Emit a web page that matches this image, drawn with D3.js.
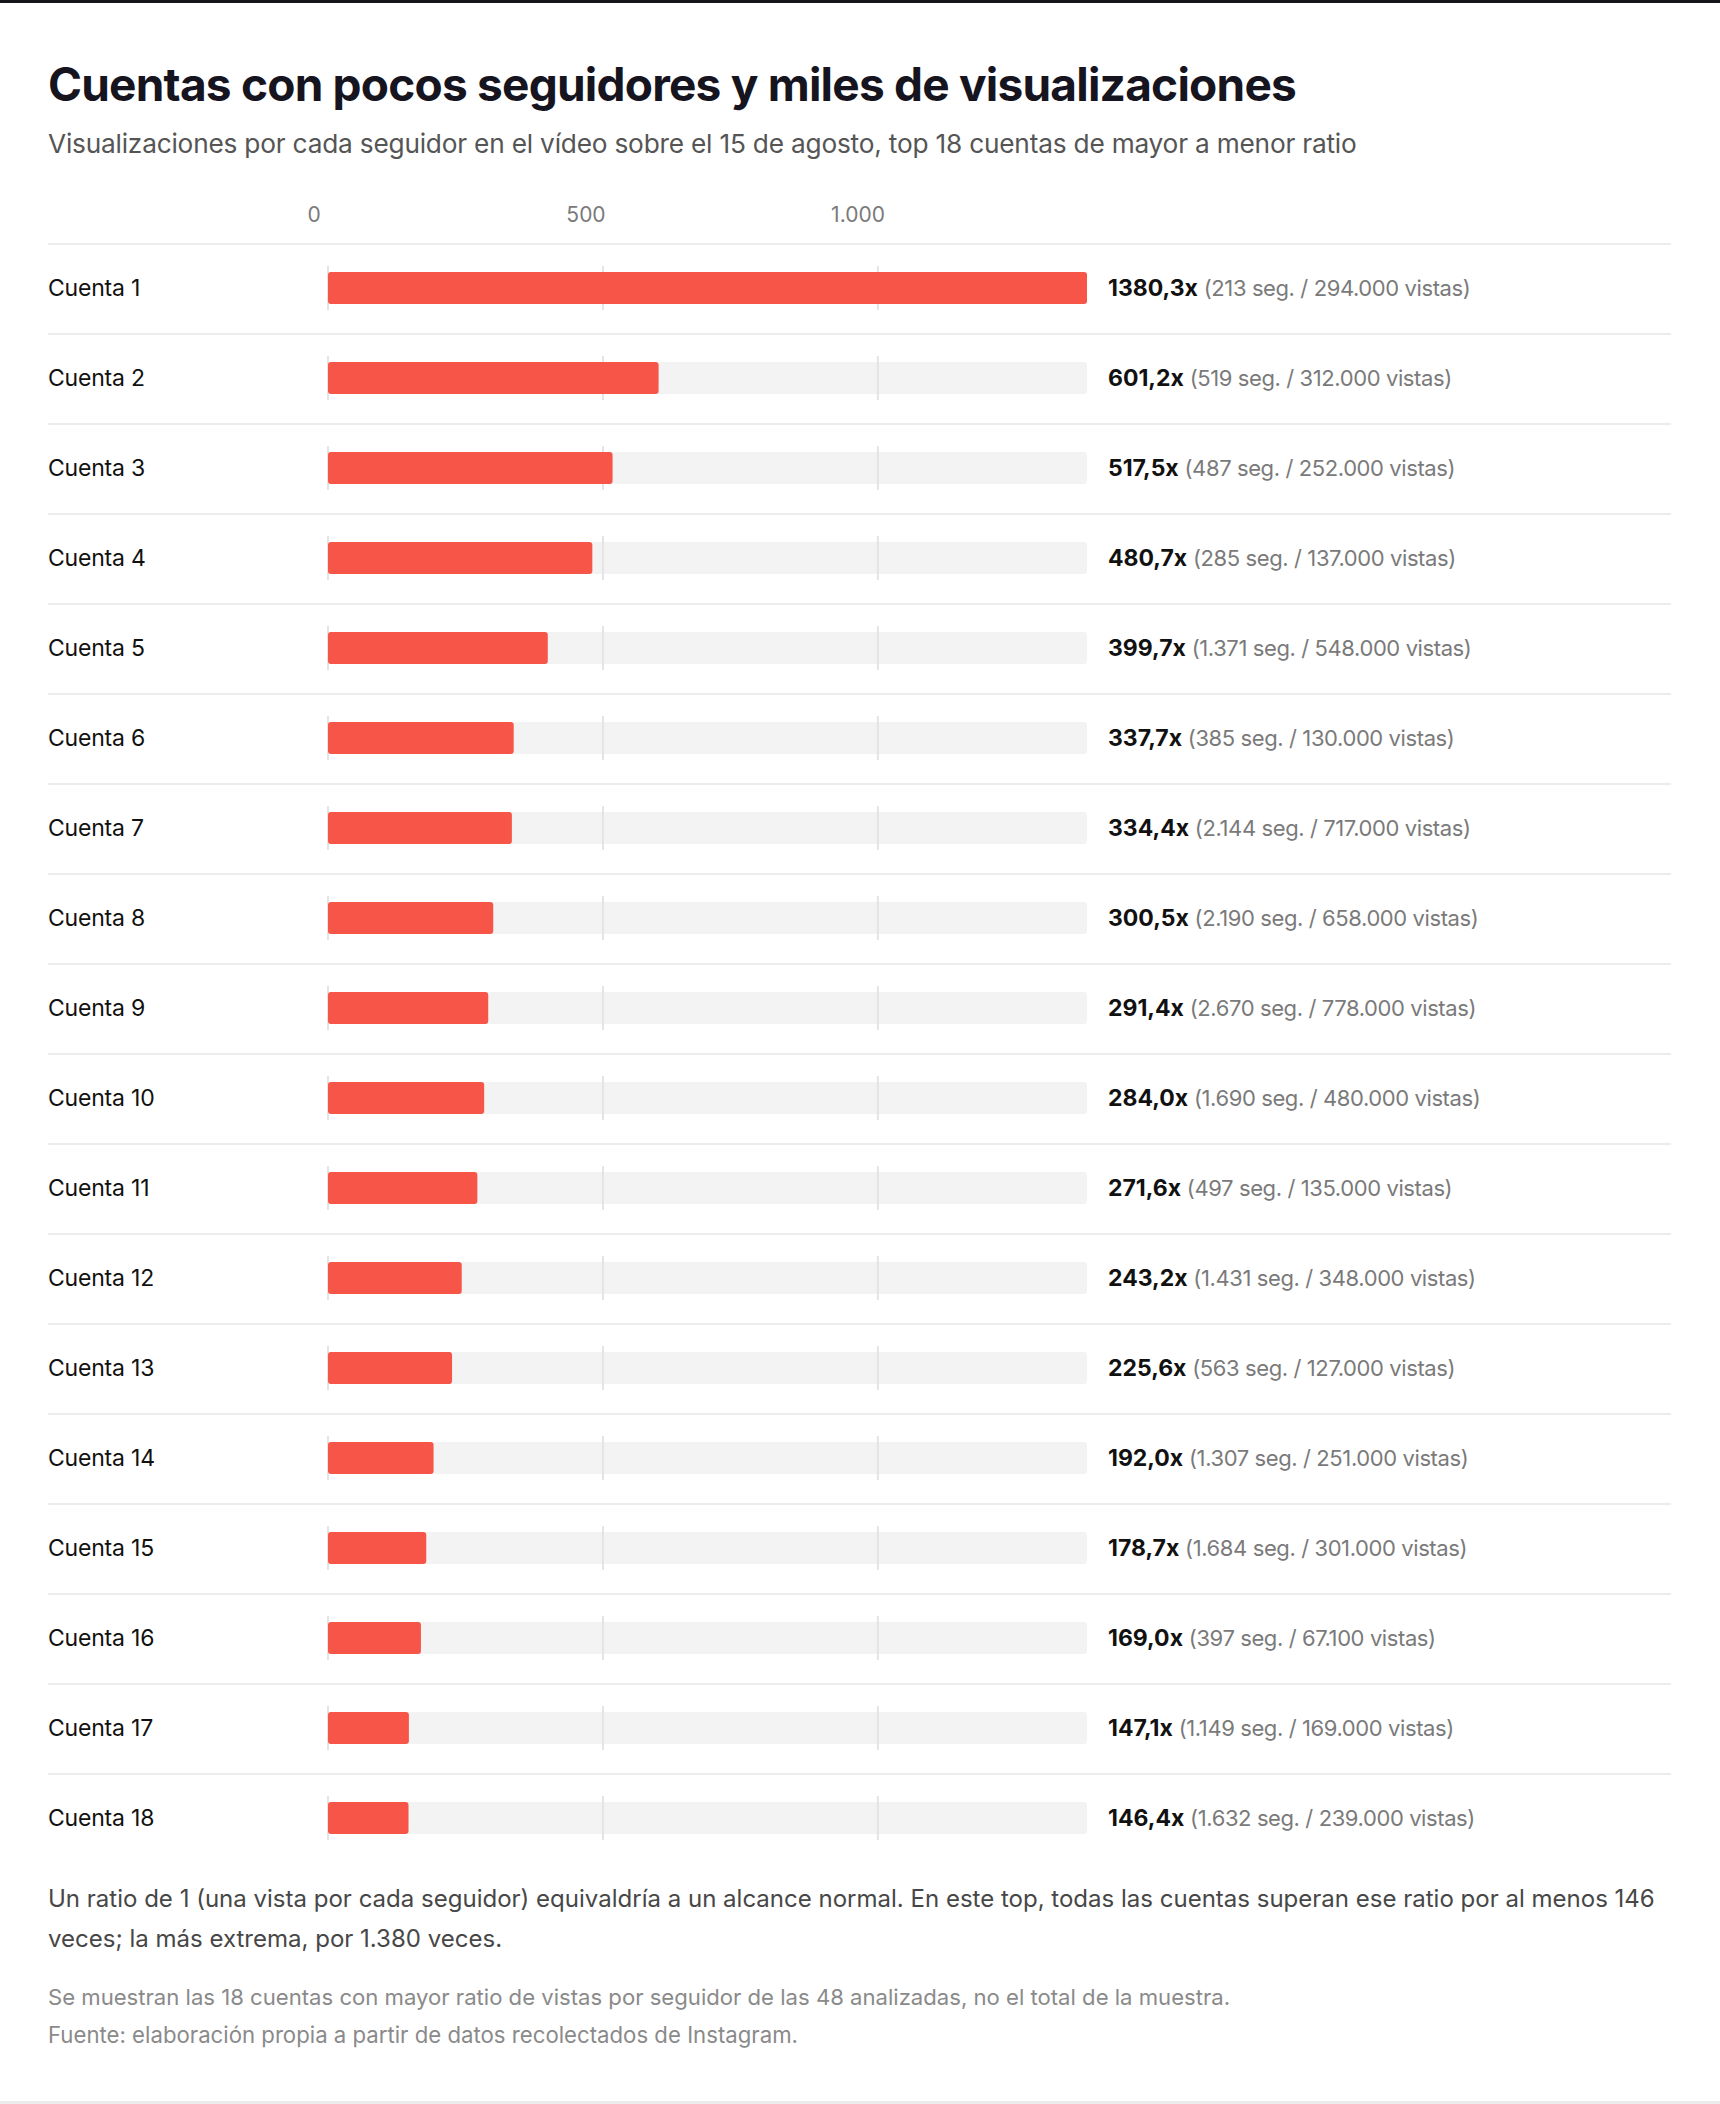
<!DOCTYPE html>
<html>
<head>
<meta charset="utf-8">
<title>Cuentas con pocos seguidores y miles de visualizaciones</title>
<style type="text/css">
html, body {margin: 0; padding: 0; background: #fff;}
svg {display: block; font-family: Inter, "Liberation Sans", sans-serif;}
</style>
<script src="https://d3js.org/d3.v7.min.js"></script>
</head>
<body>
<svg id="chart" width="1720" height="2104"></svg>
<script>
// datos
var cuentas = ["Cuenta 1", "Cuenta 2", "Cuenta 3", "Cuenta 4", "Cuenta 5", "Cuenta 6",
    "Cuenta 7", "Cuenta 8", "Cuenta 9", "Cuenta 10", "Cuenta 11", "Cuenta 12",
    "Cuenta 13", "Cuenta 14", "Cuenta 15", "Cuenta 16", "Cuenta 17", "Cuenta 18"];
var ratios = [1380.3, 601.2, 517.5, 480.7, 399.7, 337.7, 334.4, 300.5, 291.4,
    284.0, 271.6, 243.2, 225.6, 192.0, 178.7, 169.0, 147.1, 146.4];
var seguidores = [213, 519, 487, 285, 1371, 385, 2144, 2190, 2670,
    1690, 497, 1431, 563, 1307, 1684, 397, 1149, 1632];
var vistas = [294000, 312000, 252000, 137000, 548000, 130000, 717000, 658000, 778000,
    480000, 135000, 348000, 127000, 251000, 301000, 67100, 169000, 239000];
var ticks = [0, 500, 1000];

var titulo = "Cuentas con pocos seguidores y miles de visualizaciones";
var subtitulo = "Visualizaciones por cada seguidor en el vídeo sobre el 15 de agosto, top 18 cuentas de mayor a menor ratio";
var nota = ["Un ratio de 1 (una vista por cada seguidor) equivaldría a un alcance normal. En este top, todas las cuentas superan ese ratio por al menos 146",
    "veces; la más extrema, por 1.380 veces."];
var fuente = ["Se muestran las 18 cuentas con mayor ratio de vistas por seguidor de las 48 analizadas, no el total de la muestra.",
    "Fuente: elaboración propia a partir de datos recolectados de Instagram."];

var es = d3.formatLocale({decimal: ",", thousands: ".", grouping: [3], currency: ["", "€"]});
var fmtRatio = es.format(".1f"),
    fmtMiles = es.format(",d");

var svg = d3.select("#chart"),
    W = +svg.attr("width"),
    left = 48,
    right = 1671,
    top0 = 243,
    rowH = 90,
    barH = 32;

// ajusta el espaciado para que el texto ocupe el ancho medido en la imagen
function fit(sel, target) {
    var node = sel.node(),
        w = node.getComputedTextLength(),
        n = node.getNumberOfChars();
    sel.attr("letter-spacing", ((target - w) / n).toFixed(3));
}
// o bien ajusta el tamaño de letra
function fitSize(sel, target) {
    var fs = +sel.attr("font-size"),
        w = sel.node().getComputedTextLength();
    sel.attr("font-size", (fs * target / w).toFixed(2));
}

svg.append("rect").attr("x", 0).attr("y", 0).attr("width", W).attr("height", 3).attr("fill", "#16151c");
svg.append("rect").attr("x", 0).attr("y", 2101).attr("width", W).attr("height", 3).attr("fill", "#ececec");

var t = svg.append("text").attr("x", left).attr("y", 101)
    .attr("font-size", 46).attr("font-weight", 700).attr("fill", "#16151f").text(titulo);
fit(t, 1248);
var st = svg.append("text").attr("x", left).attr("y", 153)
    .attr("font-size", 25).attr("fill", "#555").attr("letter-spacing", -0.2).text(subtitulo);
fitSize(st, 1308);

var x = d3.scaleLinear().domain([0, d3.max(ratios)]).range([328, 1087]);
// las etiquetas del eje van algo desplazadas respecto a las lineas
var xLabel = d3.scaleLinear().domain([0, 1000]).range([314, 858]);
var y = d3.scaleBand().domain(cuentas).range([top0, top0 + rowH * cuentas.length]);

svg.append("g").selectAll("text")
    .data(ticks)
    .enter().append("text")
    .attr("x", function(d) { return xLabel(d); })
    .attr("y", 222)
    .attr("text-anchor", "middle")
    .attr("font-size", 21)
    .attr("fill", "#7a7a7a")
    .text(function(d) { return fmtMiles(d); });

var data = cuentas.map(function(c, i) {
    return {cuenta: c, ratio: ratios[i], seg: seguidores[i], vistas: vistas[i], i: i};
});

// separadores
svg.append("g").selectAll("line")
    .data(data)
    .enter().append("line")
    .attr("x1", left).attr("x2", right)
    .attr("y1", function(d) { return y(d.cuenta) + 1; })
    .attr("y2", function(d) { return y(d.cuenta) + 1; })
    .attr("stroke", "#ececec")
    .attr("stroke-width", 2);

var row = svg.append("g").selectAll("g")
    .data(data)
    .enter().append("g")
    .attr("transform", function(d) { return "translate(0," + (y(d.cuenta) + y.bandwidth() / 2) + ")"; });

row.append("text")
    .attr("x", left).attr("y", 8)
    .attr("font-size", 23)
    .attr("fill", "#111")
    .attr("letter-spacing", -0.2)
    .text(function(d) { return d.cuenta; });

row.append("rect")
    .attr("x", x(0)).attr("y", -barH / 2)
    .attr("width", x(d3.max(ratios)) - x(0))
    .attr("height", barH)
    .attr("rx", 3)
    .attr("fill", "#f3f3f3");

row.selectAll("line")
    .data(ticks)
    .enter().append("line")
    .attr("x1", function(d) { return x(d); })
    .attr("x2", function(d) { return x(d); })
    .attr("y1", -22).attr("y2", 22)
    .attr("stroke", "#e4e4e4")
    .attr("stroke-width", 2);

row.append("rect")
    .attr("x", x(0)).attr("y", -barH / 2)
    .attr("width", function(d) { return x(d.ratio) - x(0); })
    .attr("height", barH)
    .attr("rx", 3)
    .attr("fill", "#f65547");

var val = row.append("text")
    .attr("x", 1108).attr("y", 8);
val.append("tspan")
    .attr("font-size", 23)
    .attr("font-weight", 700)
    .attr("fill", "#111")
    .text(function(d) { return fmtRatio(d.ratio) + "x"; });
val.append("tspan")
    .attr("font-size", 22)
    .attr("letter-spacing", -0.4)
    .attr("fill", "#7a7a7a")
    .text(function(d) { return " (" + fmtMiles(d.seg) + " seg. / " + fmtMiles(d.vistas) + " vistas)"; });

// nota y fuente
var n0 = svg.append("text").attr("x", left).attr("y", 1907)
    .attr("font-size", 23).attr("fill", "#474747").text(nota[0]);
fitSize(n0, 1608);
svg.append("text").attr("x", left).attr("y", 1947)
    .attr("font-size", n0.attr("font-size")).attr("fill", "#474747").text(nota[1]);

var fuenteW = [1182, 750];
fuente.forEach(function(l, i) {
    var tx = svg.append("text").attr("x", left).attr("y", 2005 + i * 38)
        .attr("font-size", 20).attr("fill", "#8a8a8a").text(l);
    fitSize(tx, fuenteW[i]);
});
</script>
</body>
</html>
